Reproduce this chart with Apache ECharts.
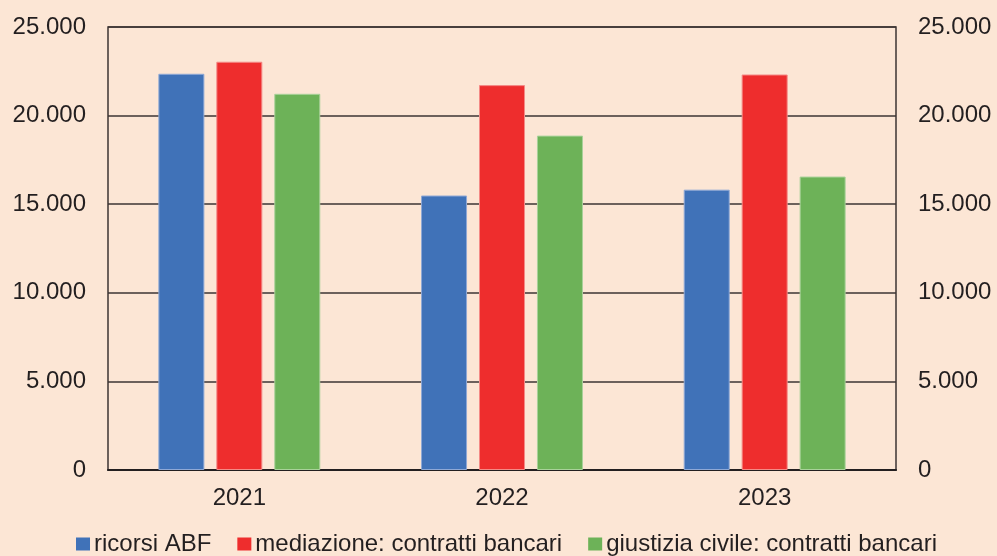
<!DOCTYPE html>
<html><head><meta charset="utf-8">
<script src="https://cdn.jsdelivr.net/npm/echarts@6/dist/echarts.min.js"></script>
<style>html,body{margin:0;padding:0;background:#fce6d5;}#c{width:997px;height:556px;}</style>
</head><body><div id="c"></div>
<script>
const categories = ['2021', '2022', '2023'];
const ricorsiABF = [22360, 15490, 15820];
const mediazione = [23040, 21720, 22320];
const giustizia = [21230, 18870, 16560];
const seriesNames = ['ricorsi ABF', 'mediazione: contratti bancari', 'giustizia civile: contratti bancari'];
const yTicks = [0, 5000, 10000, 15000, 20000, 25000];

const FONT = '"Liberation Sans", Arial, Helvetica, sans-serif';
const fmt = v => v === 0 ? '0' : String(v).replace(/\B(?=(\d{3})+(?!\d))/g, '.');
const colors = ['#4072b8', '#ee2d2d', '#6db258'];
const borders = ['#8fa9d6', '#f48a86', '#a9d29a'];

const chart = echarts.init(document.getElementById('c'));
const mkAxis = (pos) => ({
  type: 'value', position: pos, min: yTicks[0], max: yTicks[yTicks.length - 1], interval: 5000,
  axisLine: { show: false }, axisTick: { show: false },
  axisLabel: { formatter: fmt, fontFamily: FONT, fontSize: 24, color: '#231f20', margin: 22 },
  splitLine: { show: pos === 'left', lineStyle: { color: '#3d3533', width: 1.5 } }
});
chart.setOption({
  backgroundColor: '#fce6d5',
  animation: false,
  grid: { left: 108, right: 101, top: 27, bottom: 86, show: true, borderColor: '#3d3533', borderWidth: 1.5, backgroundColor: 'transparent' },
  legend: {
    top: 527, left: 71, itemWidth: 14, itemHeight: 13, itemGap: 26, icon: 'rect',
    itemStyle: { borderWidth: 0 },
    textStyle: { fontFamily: FONT, fontSize: 24, color: '#231f20', padding: [0, 0, 0, -1] },
    data: seriesNames
  },
  xAxis: {
    type: 'category', data: categories,
    axisLine: { lineStyle: { color: '#231f20', width: 2 } }, axisTick: { show: false },
    axisLabel: { fontFamily: FONT, fontSize: 24, color: '#231f20', margin: 16 }
  },
  yAxis: [mkAxis('left'), mkAxis('right')],
  series: [ricorsiABF, mediazione, giustizia].map((d, i) => ({
    name: seriesNames[i], type: 'bar', data: d, barWidth: 46, barGap: '26%',
    itemStyle: { color: colors[i], borderColor: borders[i], borderWidth: 1 }
  }))
});
</script></body></html>
